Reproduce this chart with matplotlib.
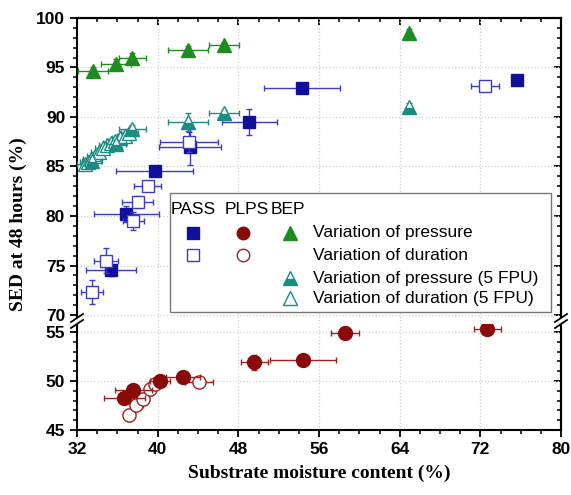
import numpy as np
import matplotlib.pyplot as plt
from matplotlib.ticker import MultipleLocator
from matplotlib.patches import Polygon, Rectangle

# PASS, variation of pressure (filled squares)
pass_p_x = [35.4, 36.9, 39.7, 43.2, 49.1, 54.3, 75.6]
pass_p_y = [74.5, 80.2, 84.5, 87.0, 89.5, 92.9, 93.7]
pass_p_xe = [2.5, 3.2, 3.8, 3.1, 2.7, 3.8, 0.0]
pass_p_ye = [0.6, 0.8, 0.0, 1.8, 1.3, 0.0, 0.0]

# PASS, variation of duration (open squares)
pass_d_x = [33.5, 34.9, 37.6, 38.0, 39.0, 43.1, 72.5]
pass_d_y = [72.3, 75.5, 79.5, 81.4, 83.0, 87.5, 93.1]
pass_d_xe = [1.1, 1.2, 1.0, 1.5, 1.3, 2.9, 1.4]
pass_d_ye = [1.2, 1.3, 0.9, 0.6, 0.0, 1.0, 0.0]

# PLPS, variation of pressure (filled circles)
plps_p_x = [36.7, 37.6, 40.2, 42.5, 49.6, 54.4, 58.6, 72.7]
plps_p_y = [48.3, 49.1, 50.0, 50.4, 51.9, 52.1, 54.9, 55.3]
plps_p_xe = [2.0, 1.8, 1.0, 1.7, 1.3, 3.3, 1.4, 1.3]
plps_p_ye = [0.3, 0.4, 0.3, 0.3, 0.8, 0.3, 0.2, 0.2]

# PLPS, variation of duration (open circles)
plps_d_x = [37.2, 37.9, 38.5, 39.2, 39.7, 44.1]
plps_d_y = [46.5, 47.6, 48.2, 49.2, 49.7, 49.9]
plps_d_xe = [0.5, 0.6, 0.6, 0.5, 0.5, 1.4]
plps_d_ye = [0.6, 0.6, 0.6, 0.6, 0.5, 0.4]

# BEP, variation of pressure (filled triangles)
bep_p_x = [33.6, 35.9, 37.5, 43.0, 46.6, 64.9]
bep_p_y = [94.6, 95.4, 96.0, 96.8, 97.3, 98.5]
bep_p_xe = [1.5, 1.5, 1.3, 2.0, 1.5, 0.0]
bep_p_ye = [0.5, 0.5, 0.5, 0.4, 0.3, 0.4]

# BEP, variation of pressure at 5 FPU (half filled triangles)
bep5_p_x = [33.5, 35.9, 37.5, 43.0, 46.6, 64.9]
bep5_p_y = [85.6, 87.3, 88.8, 89.5, 90.4, 91.0]
bep5_p_xe = [1.0, 1.0, 1.3, 2.0, 1.5, 0.0]
bep5_p_ye = [0.4, 0.4, 0.4, 0.9, 0.3, 0.4]

# BEP, variation of duration at 5 FPU (open triangles)
bep5_d_x = [32.8, 33.1, 33.4, 33.8, 34.2, 34.6, 35.0, 35.4, 35.8, 36.3, 36.8, 37.2]
bep5_d_y = [85.3, 85.5, 85.8, 86.1, 86.5, 86.9, 87.2, 87.4, 87.6, 87.9, 88.1, 88.4]
bep5_d_xe = [0.8] * 12
bep5_d_ye = [0.4] * 12

navy = '#10109a'
blue = '#3c3cc8'
red = '#8a0a0a'
green = '#1f8c1f'
teal = '#1a8c84'

plt.rcParams['font.family'] = 'Liberation Sans'

fig = plt.figure(figsize=(5.71, 4.95), dpi=100)
W, H = 571.0, 495.0
x0, x1 = 77, 561
brk = 323.5
top_pix, bot_pix = 18, 430
ax = fig.add_axes([x0 / W, 1 - brk / H, (x1 - x0) / W, (brk - top_pix) / H])
ax2 = fig.add_axes([x0 / W, 1 - bot_pix / H, (x1 - x0) / W, (bot_pix - brk) / H], sharex=ax)

ax.set_ylim(100 - (brk - top_pix) / 9.9, 100)
ax2.set_ylim(45, 55 + (332 - brk) / 9.8)
ax.set_xlim(32, 80)

def eb(a, x, y, xe, ye, marker, col, ecol, mfc, ms, z, **kw):
    a.errorbar(x, y, xerr=xe, yerr=ye, fmt=marker, color=col, ecolor=ecol,
               mfc=mfc, mec=col, ms=ms, elinewidth=1, capsize=2.5, capthick=1,
               zorder=z, **kw)

eb(ax, bep5_d_x, bep5_d_y, bep5_d_xe, bep5_d_ye, '^', teal, teal, 'white', 9.5, 3)
eb(ax, bep5_p_x, bep5_p_y, bep5_p_xe, bep5_p_ye, '^', teal, teal, teal, 9.5, 4,
   fillstyle='bottom', markerfacecoloralt='white')
eb(ax, bep_p_x, bep_p_y, bep_p_xe, bep_p_ye, '^', green, green, green, 10, 4)
eb(ax, pass_p_x, pass_p_y, pass_p_xe, pass_p_ye, 's', navy, blue, navy, 8.5, 4)
eb(ax, pass_d_x, pass_d_y, pass_d_xe, pass_d_ye, 's', blue, blue, 'white', 8.5, 5)
eb(ax2, plps_d_x, plps_d_y, plps_d_xe, plps_d_ye, 'o', '#a02020', '#a02020', 'white', 9.5, 4)
eb(ax2, plps_p_x, plps_p_y, plps_p_xe, plps_p_ye, 'o', red, '#a02020', red, 10, 5)

ax.set_yticks([70, 75, 80, 85, 90, 95, 100])
ax2.set_yticks([45, 50, 55])
ax.set_xticks([32, 40, 48, 56, 64, 72, 80])
for a in (ax, ax2):
    a.xaxis.set_minor_locator(MultipleLocator(2))
    a.yaxis.set_minor_locator(MultipleLocator(1))
    a.grid(True, which='major', linestyle=':', color='#d0d0d0', linewidth=0.9)
    a.set_axisbelow(True)
    for s in a.spines.values():
        s.set_linewidth(1.5)
    a.tick_params(axis='both', which='major', length=5, width=1.3, labelsize=12.5)
    a.tick_params(axis='both', which='minor', length=3, width=1.1)
    for lab in a.get_yticklabels() + a.get_xticklabels():
        lab.set_fontweight('bold')
    # mirrored ticks on the right, pointing inwards
    r = a.secondary_yaxis('right')
    r.set_yticks(a.get_yticks())
    r.yaxis.set_minor_locator(MultipleLocator(1))
    r.tick_params(which='major', direction='in', length=5, width=1.3, labelright=False)
    r.tick_params(which='minor', direction='in', length=3, width=1.1)
    r.spines['right'].set_linewidth(1.5)

ax.spines['bottom'].set_visible(False)
ax2.spines['top'].set_visible(False)
ax.tick_params(axis='x', which='both', bottom=False, labelbottom=False)
t = ax.secondary_xaxis('top')
t.set_xticks([32, 40, 48, 56, 64, 72, 80])
t.xaxis.set_minor_locator(MultipleLocator(2))
t.tick_params(which='major', direction='in', length=5, width=1.3, labeltop=False)
t.tick_params(which='minor', direction='in', length=3, width=1.1)
t.spines['top'].set_linewidth(1.5)

ax2.set_xlabel('Substrate moisture content (%)', family='Liberation Serif',
               fontweight='bold', fontsize=14, labelpad=6)
fig.text(0.032, (1 - bot_pix / H + 1 - top_pix / H) / 2, 'SED at 48 hours (%)',
         rotation=90, va='center', ha='center', family='Liberation Serif',
         fontweight='bold', fontsize=14)

# break marks on both spines
for xf in (x0 / W, x1 / W):
    yf = 1 - 321 / H
    dx, dy = 6 / W, 4 / H
    fig.patches.append(Polygon([[xf - dx, yf - dy - 3 / H], [xf + dx, yf + dy - 3 / H],
                                [xf + dx, yf + dy + 3 / H], [xf - dx, yf - dy + 3 / H]],
                               closed=True, transform=fig.transFigure,
                               facecolor='white', edgecolor='none', zorder=10))
    for off in (-3 / H, 3 / H):
        fig.lines.append(plt.Line2D([xf - dx, xf + dx], [yf - dy + off, yf + dy + off],
                                    transform=fig.transFigure, color='black',
                                    lw=1.3, zorder=11))

# legend drawn by hand
ax.add_patch(Rectangle((0.192, 0.038), 0.787, 0.389, transform=ax.transAxes,
                       facecolor='white', edgecolor='#777777', lw=1.0, zorder=20))
tr = ax.transAxes
hy = 0.372
for xx, s in [(0.240, 'PASS'), (0.351, 'PLPS'), (0.436, 'BEP')]:
    ax.text(xx, hy, s, transform=tr, ha='center', va='center', fontsize=12.5, zorder=21)
rows = [0.297, 0.224, 0.148, 0.0825]
ax.plot([0.240], [rows[0]], 's', color=navy, ms=8, transform=tr, zorder=21)
ax.plot([0.240], [rows[1]], 's', color=blue, mfc='white', ms=8, transform=tr, zorder=21)
ax.plot([0.344], [rows[0]], 'o', color=red, ms=9, transform=tr, zorder=21)
ax.plot([0.344], [rows[1]], 'o', color='#a02020', mfc='white', ms=9, transform=tr, zorder=21)
ax.plot([0.440], [rows[0]], '^', color=green, ms=10, transform=tr, zorder=21)
ax.plot([0.440], [rows[2]], '^', color=teal, ms=9.5, fillstyle='bottom',
        markerfacecoloralt='white', transform=tr, zorder=21)
ax.plot([0.440], [rows[3]], '^', color=teal, mfc='white', ms=9.5, transform=tr, zorder=21)
labels = ['Variation of pressure', 'Variation of duration',
          'Variation of pressure (5 FPU)', 'Variation of duration (5 FPU)']
for yy, s in zip(rows, labels):
    ax.text(0.488, yy, s, transform=tr, ha='left', va='center', fontsize=12.5, zorder=21)

fig.savefig('out.png', dpi=100)
